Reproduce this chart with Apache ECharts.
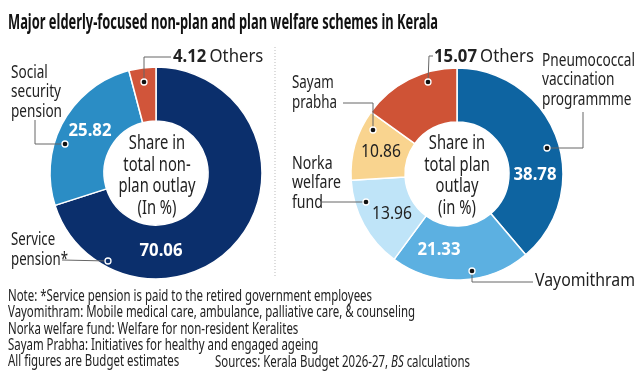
<!DOCTYPE html>
<html>
<head>
<meta charset="utf-8">
<title>Kerala elderly welfare schemes</title>
<script src="https://cdn.jsdelivr.net/npm/echarts@6/dist/echarts.min.js"></script>
<style>
  html, body { margin: 0; padding: 0; background: #fff; }
  #main { width: 640px; height: 375px; }
</style>
</head>
<body>
<div id="main"></div>
<script>
    // non-plan outlay (%)
    var nonPlanNames = ['Service pension', 'Social security pension', 'Others'];
    var nonPlanValues = [70.06, 25.82, 4.12];
    var nonPlanColors = ['#0b2f6c', '#2b8dc5', '#d1553a'];

    // plan outlay (%)
    var planNames = ['Pneumococcal vaccination programmme', 'Vayomithram', 'Norka welfare fund', 'Sayam prabha', 'Others'];
    var planValues = [38.78, 21.33, 13.96, 10.86, 15.07];
    var planColors = ['#0e64a1', '#5cb0e1', '#bfe4f8', '#f9d48f', '#cf5336'];

    var FONT = '"Noto Sans", "Open Sans", sans-serif';
    var INK = '#222';

    // the reference uses a condensed face; squeeze our font to the same widths
    var ctx = document.createElement('canvas').getContext('2d');
    function squeeze(sample, font, target) {
        ctx.font = font;
        return target / ctx.measureText(sample).width;
    }
    var titleFont = 'bold 21px ' + FONT;
    var capFont = '19px ' + FONT;
    var nameFont = '18px ' + FONT;
    var noteFont = '16px ' + FONT;
    var valBold = 'bold 18px ' + FONT;
    var valReg = '18px ' + FONT;
    var sTitle = squeeze('Major elderly-focused non-plan and plan welfare schemes in Kerala', titleFont, 430);
    var sCap = squeeze('plan outlay', capFont, 77);
    var sNote = squeeze('Note: *Service pension is paid to the retired government employees', noteFont, 364);
    var sValB = squeeze('70.06', valBold, 43);
    var sValR = squeeze('10.86', valReg, 40);

    function buildData(names, values, colors) {
        var out = [];
        for (var i = 0; i < names.length; i++) {
            out.push({name: names[i], value: values[i], itemStyle: {color: colors[i]}});
        }
        return out;
    }

    function txt(x, y, s, font, scale, align, lh, fill) {
        return {
            type: 'text', x: x, y: y, z: 10, scaleX: scale,
            style: {
                text: s, fill: fill || INK, font: font,
                textAlign: align || 'left', textVerticalAlign: 'middle',
                align: align || 'left', verticalAlign: 'middle', lineHeight: lh || 20
            }
        };
    }

    // outside name block, squeezed so its widest line gets the given width
    function nameBlock(x, y, s, widest, target) {
        return txt(x, y, s, nameFont, squeeze(widest, nameFont, target), 'left', 19.5);
    }

    function leader(points, dotFill) {
        var last = points[points.length - 1];
        return [
            {type: 'polyline', z: 10, shape: {points: points}, style: {stroke: '#666', lineWidth: 1, fill: null}},
            {type: 'circle', z: 11, shape: {cx: last[0], cy: last[1], r: 3}, style: {fill: dotFill || '#111', stroke: '#fff', lineWidth: 1.3}}
        ];
    }

    // value labels, written from the value arrays
    function values(vals, pos, dark) {
        var out = [];
        for (var i = 0; i < vals.length; i++) {
            if (!pos[i]) continue;
            var isDark = dark.indexOf(i) >= 0;
            out.push(txt(pos[i][0], pos[i][1], vals[i].toFixed(2), isDark ? valReg : valBold,
                isDark ? sValR : sValB, 'center', 20, isDark ? INK : '#fff'));
        }
        return out;
    }

    function othersLabel(x, y, v) {
        return {
            type: 'text', x: x, y: y, z: 10, scaleX: sValB,
            style: {
                text: '{b|' + v.toFixed(2) + '} {n|Others}',
                textVerticalAlign: 'middle', verticalAlign: 'middle',
                rich: {
                    b: {fill: INK, color: INK, fontFamily: FONT, fontSize: 18, fontWeight: 'bold'},
                    n: {fill: INK, color: INK, fontFamily: FONT, fontSize: 18}
                }
            }
        };
    }

    var graphics = [
        txt(8, 23, 'Major elderly-focused non-plan and plan welfare schemes in Kerala', titleFont, sTitle, 'left', 24, '#111'),
        // dotted separator
        {type: 'line', z: 10, shape: {x1: 275, y1: 47, x2: 275, y2: 276}, style: {stroke: '#bbb', lineWidth: 1, lineDash: [1, 2]}},
        // centre captions
        txt(157, 176, 'Share in\ntotal non-\nplan outlay\n(In %)', capFont, sCap, 'center', 21.5),
        txt(457, 176, 'Share in\ntotal plan\noutlay\n(in %)', capFont, sCap, 'center', 21.5),
        // outside names
        nameBlock(11, 92, 'Social\nsecurity\npension', 'security', 50),
        nameBlock(11, 250, 'Service\npension*', 'pension*', 57),
        nameBlock(292, 93, 'Sayam\nprabha', 'prabha', 45),
        nameBlock(292, 183, 'Norka\nwelfare\nfund', 'welfare', 49),
        nameBlock(542, 80, 'Pneumococcal\nvaccination\nprogrammme', 'Pneumococcal', 93),
        nameBlock(535, 281, 'Vayomithram', 'Vayomithram', 100),
        // notes
        txt(8, 329,
            'Note: *Service pension is paid to the retired government employees\n' +
            'Vayomithram: Mobile medical care, ambulance, palliative care, & counseling\n' +
            'Norka welfare fund: Welfare for non-resident Keralites\n' +
            'Sayam Prabha: Initiatives for healthy and engaged ageing\n' +
            'All figures are Budget estimates', noteFont, sNote, 'left', 16.2),
        {type: 'text', x: 215, y: 362, z: 10, scaleX: sNote, style: {
            text: '{n|Sources: Kerala Budget 2026-27, }{i|BS}{n| calculations}',
            textVerticalAlign: 'middle', verticalAlign: 'middle',
            rich: {
                n: {fill: INK, color: INK, fontFamily: FONT, fontSize: 16},
                i: {fill: INK, color: INK, fontFamily: FONT, fontSize: 16, fontStyle: 'italic'}
            }}},
        othersLabel(173, 57, nonPlanValues[2]),
        othersLabel(434, 57, planValues[4])
    ];
    graphics = graphics
        .concat(values(nonPlanValues, [[161, 251], [90, 131]], []))
        .concat(values(planValues, [[535, 175], [439, 250], [392, 214], [381, 152]], [2, 3]))
        .concat(leader([[35, 120], [35, 144], [65, 144]]))
        .concat(leader([[62, 260], [108, 261]], '#0b2f6c'))
        .concat(leader([[171, 57], [144, 57], [144, 82]]))
        .concat(leader([[343, 103], [373, 103], [373, 130]]))
        .concat(leader([[322, 202], [366, 202]]))
        .concat(leader([[433, 56], [429, 56], [428, 82]]))
        .concat(leader([[583, 112], [583, 148], [547, 148]]))
        .concat(leader([[533, 282], [472, 282], [472, 271]]));

    var myChart = echarts.init(document.getElementById('main'));
    var option = {
        animation: false,
        series: [
            {
                type: 'pie',
                center: [156, 173],
                radius: [52, 106],
                startAngle: 90,
                clockwise: true,
                itemStyle: {borderColor: '#fff', borderWidth: 1.5},
                label: {show: false},
                labelLine: {show: false},
                emphasis: {disabled: true},
                data: buildData(nonPlanNames, nonPlanValues, nonPlanColors)
            },
            {
                type: 'pie',
                center: [457, 174],
                radius: [52, 106],
                startAngle: 90,
                clockwise: true,
                itemStyle: {borderColor: '#fff', borderWidth: 1.5},
                label: {show: false},
                labelLine: {show: false},
                emphasis: {disabled: true},
                data: buildData(planNames, planValues, planColors)
            }
        ],
        graphic: graphics
    };
    myChart.setOption(option);
</script>
</body>
</html>
